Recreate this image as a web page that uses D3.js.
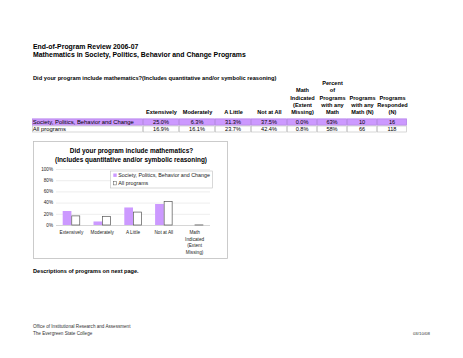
<!DOCTYPE html>
<html><head><meta charset="utf-8">
<script src="https://cdn.jsdelivr.net/npm/d3@7"></script>
<style>body{margin:0;background:#fff}svg{display:block;font-family:Arial,"Liberation Sans",sans-serif}</style>
</head><body>
<svg id="c" width="463" height="358"></svg>
<script>
const categories = ["Extensively","Moderately","A Little","Not at All","Math Indicated (Extent Missing)"];
const seriesNames = ["Society, Politics, Behavior and Change","All programs"];
const societyValues = [25.0, 6.3, 31.3, 37.5, 0.0];
const allValues = [16.9, 16.1, 23.7, 42.4, 0.8];
const yTicks = [0, 20, 40, 60, 80, 100];
const tableHeaders = [
  ["Extensively"], ["Moderately"], ["A Little"], ["Not at All"],
  ["Math","Indicated","(Extent","Missing)"],
  ["Percent","of","Programs","with any","Math"],
  ["Programs","with any","Math (N)"],
  ["Programs","Responded","(N)"]
];
const rowLabels = ["Society,  Politics,  Behavior and Change","All programs"];
const societyRow = ["25.0%","6.3%","31.3%","37.5%","0.0%","63%","10","16"];
const allRow = ["16.9%","16.1%","23.7%","42.4%","0.8%","58%","66","118"];

const svg = d3.select("#c");
const purple = "#cc99ff";

// Titles
svg.append("text").attr("x",33).attr("y",48.5).attr("font-size",6.9).attr("font-weight","bold").text("End-of-Program Review 2006-07");
svg.append("text").attr("x",33).attr("y",57).attr("font-size",6.9).attr("font-weight","bold").text("Mathematics in Society, Politics, Behavior and Change Programs");
svg.append("text").attr("x",33).attr("y",80).attr("font-size",5.7).attr("font-weight","bold").text("Did your program include mathematics?(Includes quantitative and/or symbolic reasoning)");

// Table
const colEdges = [32,143,179,215,251,287,317,347,377,407];
const colX = d3.scaleOrdinal().domain(d3.range(8)).range(d3.range(8).map(i=>(colEdges[i+1]+colEdges[i+2])/2));
const lineY = d3.scaleLinear().domain([0,4]).range([85,114.2]);
const hdr = svg.append("g").attr("font-size",5.6).attr("font-weight","bold").attr("text-anchor","middle");
tableHeaders.forEach((lines,i)=>{
  lines.forEach((t,j)=>{
    hdr.append("text").attr("x",colX(i)+0.5).attr("y",lineY(5-lines.length+j)).text(t);
  });
});
const rows = [societyRow, allRow];
const rowTop = [118.5,125.5], rowH = 7;
rows.forEach((r,k)=>{
  const g = svg.append("g");
  if(k===0) g.append("rect").attr("x",colEdges[0]).attr("y",rowTop[k]).attr("width",colEdges[9]-colEdges[0]).attr("height",rowH).attr("fill",purple);
  for(let i=0;i<9;i++){
    g.append("rect").attr("x",colEdges[i]+0.5).attr("y",rowTop[k]+0.5).attr("width",colEdges[i+1]-colEdges[i]-1).attr("height",rowH-1)
      .attr("fill","none").attr("stroke",k===0?"#b58ae0":"#bbb").attr("stroke-width",0.6);
  }
  g.append("text").attr("x",32.8).attr("y",rowTop[k]+5.3).attr("font-size",5.9).text(rowLabels[k]);
  r.forEach((v,i)=>{
    g.append("text").attr("x",colX(i)).attr("y",rowTop[k]+5.3).attr("font-size",5.6).attr("text-anchor","middle").text(v);
  });
});

// Chart box
svg.append("rect").attr("x",33.5).attr("y",141.5).attr("width",194).attr("height",117).attr("fill","#fff").attr("stroke","#bfbfbf").attr("stroke-width",0.8);
const ct = svg.append("g").attr("font-size",6.45).attr("font-weight","bold").attr("text-anchor","middle");
ct.append("text").attr("x",131.5).attr("y",153).text("Did your program include mathematics?");
ct.append("text").attr("x",131).attr("y",161.6).text("(Includes quantitative and/or symbolic reasoning)");

const y = d3.scaleLinear().domain([0,100]).range([225,169]);
const x0 = d3.scaleBand().domain(categories).range([56,210]).padding(0);
const x1 = d3.scaleBand().domain(seriesNames).range([0,x0.bandwidth()]).paddingInner(0).paddingOuter(0.77);

// gridlines
svg.append("g").selectAll("line").data(yTicks).join("line")
  .attr("x1",56).attr("x2",210).attr("y1",d=>y(d)+0.5).attr("y2",d=>y(d)+0.5)
  .attr("stroke",d=>d===0?"#bbb":"#e0e0e0").attr("stroke-width",0.6);
// y axis labels
svg.append("g").selectAll("text").data(yTicks).join("text")
  .attr("x",53).attr("y",d=>y(d)+1.8).attr("font-size",4.6).attr("text-anchor","end").attr("fill","#222").text(d=>d+"%");

// bars
const data = categories.map((c,i)=>({c, vals:[societyValues[i], allValues[i]]}));
const bars = svg.append("g").selectAll("g").data(data).join("g").attr("transform",d=>`translate(${x0(d.c)},0)`);
bars.selectAll("rect").data(d=>d.vals.map((v,k)=>({v,k}))).join("rect")
  .attr("x",d=>x1(seriesNames[d.k])+(d.k===1?0.35:0))
  .attr("width",d=>x1.bandwidth()-(d.k===1?0.7:0))
  .attr("y",d=>y(d.v)+(d.k===1?0.35:0))
  .attr("height",d=>Math.max(0,y(0)-y(d.v)-(d.k===1?0.35:0)))
  .attr("fill",d=>d.k===0?purple:"#fff")
  .attr("stroke",d=>d.k===0?"none":"#555").attr("stroke-width",0.7)
  .filter(d=>d.v===0).remove();

// category labels
const catLines = [["Extensively"],["Moderately"],["A Little"],["Not at All"],["Math","Indicated","(Extent","Missing)"]];
const cl = svg.append("g").attr("font-size",4.7).attr("text-anchor","middle").attr("fill","#222");
categories.forEach((c,i)=>{
  catLines[i].forEach((t,j)=>{
    cl.append("text").attr("x",x0(c)+x0.bandwidth()/2).attr("y",234+j*6.6).text(t);
  });
});

// legend
const lg = svg.append("g");
lg.append("rect").attr("x",110.5).attr("y",171).attr("width",102).attr("height",17).attr("fill","#fff").attr("stroke","#bfbfbf").attr("stroke-width",0.6);
seriesNames.forEach((s,k)=>{
  const yy = k===0?175.3:183.3;
  lg.append("rect").attr("x",113.3).attr("y",yy-1.8).attr("width",3.4).attr("height",3.4)
    .attr("fill",k===0?purple:"#fff").attr("stroke",k===0?"none":"#555").attr("stroke-width",0.5);
  lg.append("text").attr("x",118.3).attr("y",yy+1.8).attr("font-size",5.35).attr("fill","#222").text(s);
});

// footer
svg.append("text").attr("x",33).attr("y",273).attr("font-size",5.6).attr("font-weight","bold").text("Descriptions of programs on next page.");
svg.append("text").attr("x",33).attr("y",328.3).attr("font-size",4.6).attr("fill","#333").text("Office of Institutional Research and Assessment");
svg.append("text").attr("x",33).attr("y",335).attr("font-size",4.6).attr("fill","#333").text("The Evergreen State College");
svg.append("text").attr("x",430).attr("y",335).attr("font-size",4.4).attr("text-anchor","end").attr("fill","#333").text("03/10/08");
</script>
</body></html>
